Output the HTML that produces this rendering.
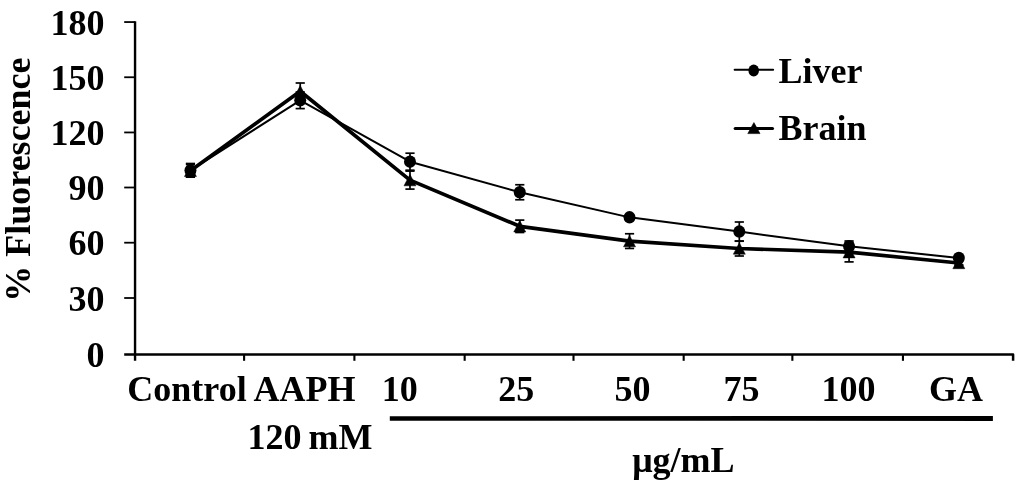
<!DOCTYPE html>
<html><head><meta charset="utf-8"><style>
html,body{margin:0;padding:0;background:#fff;}
svg{display:block;will-change:transform;}
text{font-family:"Liberation Serif",serif;font-weight:bold;font-size:36px;fill:#000;}
</style></head><body>
<svg width="1024" height="487" viewBox="0 0 1024 487">
<rect x="0" y="0" width="1024" height="487" fill="#fff"/>
<path d="M389.8 416.2 L992.9 416.0 L992.9 420.9 L389.8 420.7Z" fill="#000"/>
<line x1="135.05" y1="21.150000000000002" x2="135.05" y2="360.8" stroke="#000" stroke-width="2.4"/>
<line x1="124.2" y1="22.05" x2="135.05" y2="22.05" stroke="#000" stroke-width="1.8"/>
<line x1="124.2" y1="77.25" x2="135.05" y2="77.25" stroke="#000" stroke-width="1.8"/>
<line x1="124.2" y1="132.45" x2="135.05" y2="132.45" stroke="#000" stroke-width="1.8"/>
<line x1="124.2" y1="187.50" x2="135.05" y2="187.50" stroke="#000" stroke-width="1.8"/>
<line x1="124.2" y1="242.70" x2="135.05" y2="242.70" stroke="#000" stroke-width="1.8"/>
<line x1="124.2" y1="298.00" x2="135.05" y2="298.00" stroke="#000" stroke-width="1.8"/>
<path d="M124.2 354.5 H1013.1 V360.8" fill="none" stroke="#000" stroke-width="2.5" stroke-linejoin="round"/>
<line x1="244.10" y1="354.5" x2="244.10" y2="360.8" stroke="#000" stroke-width="2.1"/>
<line x1="354.40" y1="354.5" x2="354.40" y2="360.8" stroke="#000" stroke-width="2.1"/>
<line x1="464.66" y1="354.5" x2="464.66" y2="360.8" stroke="#000" stroke-width="2.1"/>
<line x1="573.50" y1="354.5" x2="573.50" y2="360.8" stroke="#000" stroke-width="2.1"/>
<line x1="683.67" y1="354.5" x2="683.67" y2="360.8" stroke="#000" stroke-width="2.1"/>
<line x1="792.36" y1="354.5" x2="792.36" y2="360.8" stroke="#000" stroke-width="2.1"/>
<line x1="902.95" y1="354.5" x2="902.95" y2="360.8" stroke="#000" stroke-width="2.1"/>
<polyline points="190.45,170.30 300.22,100.30 409.99,161.70 519.76,192.25 629.53,217.35 739.30,231.60 849.07,246.30 958.84,258.00" fill="none" stroke="#000" stroke-width="2.0" stroke-linejoin="round"/>
<polyline points="190.45,170.80 300.22,91.30 409.99,180.10 519.76,226.30 629.53,241.10 739.30,248.50 849.07,252.20 958.84,263.00" fill="none" stroke="#000" stroke-width="3.7" stroke-linejoin="round"/>
<line x1="190.45" y1="163.50" x2="190.45" y2="177.10" stroke="#000" stroke-width="1.7"/><line x1="185.85" y1="163.50" x2="195.05" y2="163.50" stroke="#000" stroke-width="1.7"/><line x1="185.85" y1="177.10" x2="195.05" y2="177.10" stroke="#000" stroke-width="1.7"/>
<line x1="190.45" y1="164.50" x2="190.45" y2="177.10" stroke="#000" stroke-width="1.7"/><line x1="185.85" y1="164.50" x2="195.05" y2="164.50" stroke="#000" stroke-width="1.7"/><line x1="185.85" y1="177.10" x2="195.05" y2="177.10" stroke="#000" stroke-width="1.7"/>
<line x1="300.22" y1="92.00" x2="300.22" y2="108.60" stroke="#000" stroke-width="1.7"/><line x1="295.62" y1="92.00" x2="304.82" y2="92.00" stroke="#000" stroke-width="1.7"/><line x1="295.62" y1="108.60" x2="304.82" y2="108.60" stroke="#000" stroke-width="1.7"/>
<line x1="300.22" y1="83.00" x2="300.22" y2="99.60" stroke="#000" stroke-width="1.7"/><line x1="295.62" y1="83.00" x2="304.82" y2="83.00" stroke="#000" stroke-width="1.7"/><line x1="295.62" y1="99.60" x2="304.82" y2="99.60" stroke="#000" stroke-width="1.7"/>
<line x1="409.99" y1="153.20" x2="409.99" y2="170.20" stroke="#000" stroke-width="1.7"/><line x1="405.39" y1="153.20" x2="414.59" y2="153.20" stroke="#000" stroke-width="1.7"/><line x1="405.39" y1="170.20" x2="414.59" y2="170.20" stroke="#000" stroke-width="1.7"/>
<line x1="409.99" y1="171.10" x2="409.99" y2="189.10" stroke="#000" stroke-width="1.7"/><line x1="405.39" y1="171.10" x2="414.59" y2="171.10" stroke="#000" stroke-width="1.7"/><line x1="405.39" y1="189.10" x2="414.59" y2="189.10" stroke="#000" stroke-width="1.7"/>
<line x1="519.76" y1="184.75" x2="519.76" y2="199.75" stroke="#000" stroke-width="1.7"/><line x1="515.16" y1="184.75" x2="524.36" y2="184.75" stroke="#000" stroke-width="1.7"/><line x1="515.16" y1="199.75" x2="524.36" y2="199.75" stroke="#000" stroke-width="1.7"/>
<line x1="519.76" y1="220.10" x2="519.76" y2="232.50" stroke="#000" stroke-width="1.7"/><line x1="515.16" y1="220.10" x2="524.36" y2="220.10" stroke="#000" stroke-width="1.7"/><line x1="515.16" y1="232.50" x2="524.36" y2="232.50" stroke="#000" stroke-width="1.7"/>
<line x1="629.53" y1="215.35" x2="629.53" y2="219.35" stroke="#000" stroke-width="1.7"/><line x1="624.93" y1="215.35" x2="634.13" y2="215.35" stroke="#000" stroke-width="1.7"/><line x1="624.93" y1="219.35" x2="634.13" y2="219.35" stroke="#000" stroke-width="1.7"/>
<line x1="629.53" y1="233.75" x2="629.53" y2="248.45" stroke="#000" stroke-width="1.7"/><line x1="624.93" y1="233.75" x2="634.13" y2="233.75" stroke="#000" stroke-width="1.7"/><line x1="624.93" y1="248.45" x2="634.13" y2="248.45" stroke="#000" stroke-width="1.7"/>
<line x1="739.30" y1="222.00" x2="739.30" y2="241.20" stroke="#000" stroke-width="1.7"/><line x1="734.70" y1="222.00" x2="743.90" y2="222.00" stroke="#000" stroke-width="1.7"/><line x1="734.70" y1="241.20" x2="743.90" y2="241.20" stroke="#000" stroke-width="1.7"/>
<line x1="739.30" y1="241.00" x2="739.30" y2="256.00" stroke="#000" stroke-width="1.7"/><line x1="734.70" y1="241.00" x2="743.90" y2="241.00" stroke="#000" stroke-width="1.7"/><line x1="734.70" y1="256.00" x2="743.90" y2="256.00" stroke="#000" stroke-width="1.7"/>
<line x1="849.07" y1="241.00" x2="849.07" y2="251.60" stroke="#000" stroke-width="1.7"/><line x1="844.47" y1="241.00" x2="853.67" y2="241.00" stroke="#000" stroke-width="1.7"/><line x1="844.47" y1="251.60" x2="853.67" y2="251.60" stroke="#000" stroke-width="1.7"/>
<line x1="849.07" y1="242.50" x2="849.07" y2="261.90" stroke="#000" stroke-width="1.7"/><line x1="844.47" y1="242.50" x2="853.67" y2="242.50" stroke="#000" stroke-width="1.7"/><line x1="844.47" y1="261.90" x2="853.67" y2="261.90" stroke="#000" stroke-width="1.7"/>
<line x1="958.84" y1="256.00" x2="958.84" y2="260.00" stroke="#000" stroke-width="1.7"/><line x1="954.24" y1="256.00" x2="963.44" y2="256.00" stroke="#000" stroke-width="1.7"/><line x1="954.24" y1="260.00" x2="963.44" y2="260.00" stroke="#000" stroke-width="1.7"/>
<line x1="958.84" y1="261.00" x2="958.84" y2="265.00" stroke="#000" stroke-width="1.7"/><line x1="954.24" y1="261.00" x2="963.44" y2="261.00" stroke="#000" stroke-width="1.7"/><line x1="954.24" y1="265.00" x2="963.44" y2="265.00" stroke="#000" stroke-width="1.7"/>
<ellipse cx="190.45" cy="170.30" rx="6.0" ry="6.25" fill="#000"/>
<path d="M190.45 165.10 L196.45 176.50 L184.45 176.50Z" fill="#000" stroke="#000" stroke-width="0.5" stroke-linejoin="round"/>
<ellipse cx="300.22" cy="100.30" rx="6.0" ry="6.25" fill="#000"/>
<path d="M300.22 85.60 L306.22 97.00 L294.22 97.00Z" fill="#000" stroke="#000" stroke-width="0.5" stroke-linejoin="round"/>
<ellipse cx="409.99" cy="161.70" rx="6.0" ry="6.25" fill="#000"/>
<path d="M409.99 174.40 L415.99 185.80 L403.99 185.80Z" fill="#000" stroke="#000" stroke-width="0.5" stroke-linejoin="round"/>
<ellipse cx="519.76" cy="192.25" rx="6.0" ry="6.25" fill="#000"/>
<path d="M519.76 220.60 L525.76 232.00 L513.76 232.00Z" fill="#000" stroke="#000" stroke-width="0.5" stroke-linejoin="round"/>
<ellipse cx="629.53" cy="217.35" rx="6.0" ry="6.25" fill="#000"/>
<path d="M629.53 235.40 L635.53 246.80 L623.53 246.80Z" fill="#000" stroke="#000" stroke-width="0.5" stroke-linejoin="round"/>
<ellipse cx="739.30" cy="231.60" rx="6.0" ry="6.25" fill="#000"/>
<path d="M739.30 242.80 L745.30 254.20 L733.30 254.20Z" fill="#000" stroke="#000" stroke-width="0.5" stroke-linejoin="round"/>
<ellipse cx="849.07" cy="246.30" rx="6.0" ry="6.25" fill="#000"/>
<path d="M849.07 246.50 L855.07 257.90 L843.07 257.90Z" fill="#000" stroke="#000" stroke-width="0.5" stroke-linejoin="round"/>
<ellipse cx="958.84" cy="258.00" rx="6.0" ry="6.25" fill="#000"/>
<path d="M958.84 257.30 L964.84 268.70 L952.84 268.70Z" fill="#000" stroke="#000" stroke-width="0.5" stroke-linejoin="round"/>
<line x1="734.6" y1="69.8" x2="773.2" y2="69.8" stroke="#000" stroke-width="1.9" stroke-linecap="round"/>
<ellipse cx="753.7" cy="70.5" rx="5.3" ry="6" fill="#000"/>
<line x1="735.2" y1="128.5" x2="772.5" y2="128.5" stroke="#000" stroke-width="3.1" stroke-linecap="round"/>
<path d="M753.9 122.6 L760 133.6 L747.8 133.6Z" fill="#000" stroke="#000" stroke-width="0.6" stroke-linejoin="round"/>
<text x="104.4" y="34.55" text-anchor="end">180</text>
<text x="104.4" y="89.75" text-anchor="end">150</text>
<text x="104.4" y="144.95" text-anchor="end">120</text>
<text x="104.4" y="200.00" text-anchor="end">90</text>
<text x="104.4" y="255.20" text-anchor="end">60</text>
<text x="104.4" y="310.50" text-anchor="end">30</text>
<text x="104.4" y="366.8" text-anchor="end">0</text>
<text x="127.3" y="401.3">Control</text>
<text x="253.4" y="401.3">AAPH</text>
<text x="381.8" y="401.3">10</text>
<text x="498.3" y="401.3">25</text>
<text x="614.6" y="401.3">50</text>
<text x="723.4" y="401.3">75</text>
<text x="821.5" y="401.3">100</text>
<text x="929.0" y="401.3">GA</text>
<text x="247.5" y="449" word-spacing="-2">120 mM</text>
<text x="632.2" y="472.4">&#956;g/mL</text>
<text x="778.5" y="82.6">Liver</text>
<text x="778.6" y="140.4">Brain</text>
<text transform="translate(29.5 301.7) rotate(-90)">% Fluorescence</text>
</svg>
</body></html>
